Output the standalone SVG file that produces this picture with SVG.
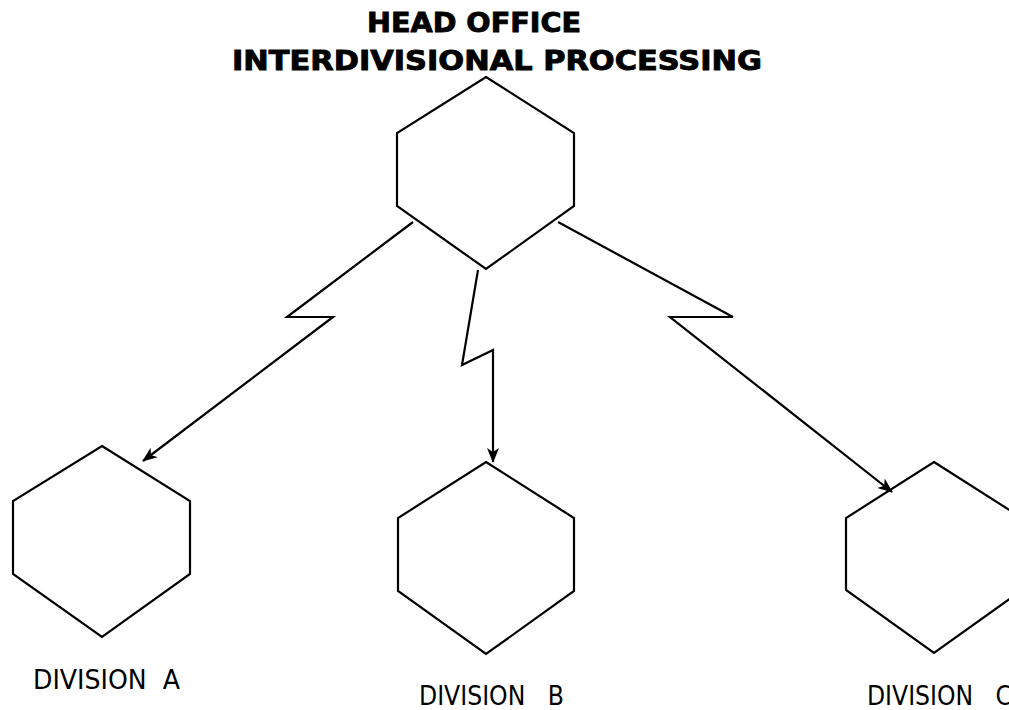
<svg xmlns="http://www.w3.org/2000/svg" width="1009" height="710" viewBox="0 0 1009 710">
<style>
.hex{fill:none;stroke:#000;stroke-width:2.2;stroke-linejoin:miter}
.conn{fill:none;stroke:#000;stroke-width:2.2;stroke-linejoin:miter}
.title{font-family:"DejaVu Sans",Verdana,sans-serif;font-weight:bold;font-size:27px;fill:#000;stroke:#000;stroke-width:0.9}
.lbl{font-family:"DejaVu Sans",Verdana,sans-serif;font-size:27px;fill:#000;white-space:pre}
</style>
<defs>
<marker id="arr" markerUnits="userSpaceOnUse" markerWidth="16" markerHeight="14" refX="14" refY="6" orient="auto" viewBox="0 0 16 12">
<path d="M0,0 L15,6 L0,12 L4,6 z" fill="#000"/>
</marker>
</defs>
<rect width="1009" height="710" fill="#fff"/>
<g id="title">
<text class="title" x="367" y="32" textLength="214" lengthAdjust="spacingAndGlyphs">HEAD OFFICE</text>
<text class="title" x="232" y="70" textLength="530" lengthAdjust="spacingAndGlyphs">INTERDIVISIONAL PROCESSING</text>
</g>
<g id="head-office">
<polygon class="hex" points="486,77 574,133 574,206 486,269 397,206 397,133"/>
</g>
<g id="division-a">
<polygon class="hex" points="102,446 190,501 190,574 102,637 13,574 13,501"/>
<text class="lbl" x="33" y="689" textLength="147" lengthAdjust="spacingAndGlyphs" xml:space="preserve">DIVISION  A</text>
</g>
<g id="division-b">
<polygon class="hex" points="486,462 574,518 574,591 486,654 398,591 398,518"/>
<text class="lbl" x="419" y="705" textLength="145" lengthAdjust="spacingAndGlyphs" xml:space="preserve">DIVISION   B</text>
</g>
<g id="division-c">
<polygon class="hex" points="934,462 1022,518 1022,590 934,653 846,590 846,518"/>
<text class="lbl" x="867" y="705" textLength="145" lengthAdjust="spacingAndGlyphs" xml:space="preserve">DIVISION   C</text>
</g>
<g id="connectors">
<polyline class="conn" points="413,222 287,317 333,317 143,461" marker-end="url(#arr)"/>
<polyline class="conn" points="478,270 462,365 493,350 493,462" marker-end="url(#arr)"/>
<polyline class="conn" points="558,222 733,317 670,317 892,492" marker-end="url(#arr)"/>
</g>
</svg>
